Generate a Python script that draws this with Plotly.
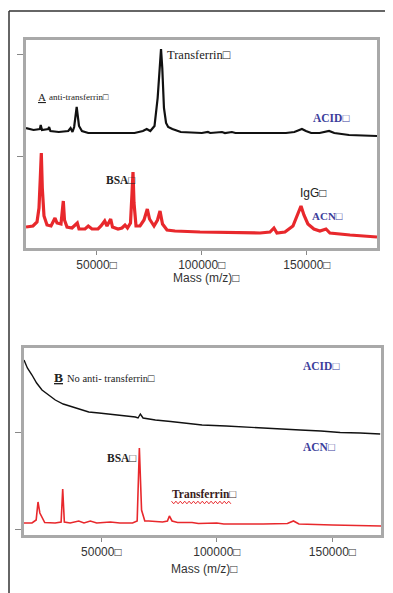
import plotly.graph_objects as go

# ---------------- DATA ----------------
# Panel A (with anti-transferrin): mass (m/z) and relative intensities (a.u.)
mass_acid_a = [16400, 20000, 23000, 23400, 24000, 27000, 27400, 28000, 32000, 36500,
               37600, 38500, 39300, 40500, 41600, 43000, 46000, 52000, 60000, 68000,
               72000, 73800, 75500, 77500, 79000, 80000, 80600, 81200, 82000, 83000,
               84000, 86000, 90000, 100000, 102900, 104000, 109600, 111000, 114300, 116000,
               130000, 140000, 144000, 146000, 147600, 149500, 152000, 156000, 160500, 163000,
               170000, 183300]
int_acid_a = [25, 23, 24, 28, 23, 24, 26, 22, 21, 22,
              25, 21, 26, 46, 27, 22, 20, 20, 20, 20,
              22, 24, 22, 27, 55, 90, 104, 85, 45, 30,
              26, 24, 21, 20, 21, 20, 21, 20, 21, 20,
              20, 20, 21, 23, 24, 22, 20, 20, 22, 20,
              18, 17]

mass_acn_a = [16400, 19730, 21630, 22580, 23200, 23680, 24150, 24960, 26390, 28290,
              29480, 30190, 31140, 33040, 34140, 34700, 35900, 38270, 40790, 41600,
              44450, 46020, 47780, 50640, 52060, 53820, 54910, 56670, 57530, 60150,
              62050, 63480, 64660, 66090, 66810, 67280, 67760, 68710, 70610, 72510,
              74080, 75130, 77270, 78930, 80120, 81310, 83450, 87250, 99140, 113400,
              127670, 132420, 134300, 135720, 139530, 143330, 145230, 147160, 148550, 150450,
              153300, 156160, 159050, 160900, 170460, 183300]
int_acn_a = [21, 22, 26, 40, 70, 95, 60, 32, 23, 22,
             27, 30, 25, 24, 47, 28, 21, 20, 25, 19,
             19, 22, 19, 19, 22, 27, 22, 29, 21, 19,
             20, 23, 20, 25, 55, 76, 45, 22, 22, 28,
             39, 29, 22, 28, 37, 24, 18, 17, 16, 15.5,
             15, 16, 20, 15, 16, 22, 32, 42, 33, 24,
             19, 17, 19, 15, 13, 11]

# Panel B (no anti-transferrin)
mass_acid_b = [16540, 18000, 20000, 22000, 24330, 27000, 30090, 33500, 37320, 41000,
               44550, 49000, 53200, 59000, 64720, 65890, 66880, 68050, 73380, 80000,
               93590, 104000, 114370, 125000, 136020, 145000, 153330, 162000, 170650]
int_acid_b = [80, 72, 65, 57, 50, 45, 40, 36, 33, 30,
              28, 27, 26, 24.5, 23, 22, 26, 22, 20, 18.5,
              15, 14, 12.5, 11.5, 10, 9, 7.5, 7, 6]

mass_acn_b = [16540, 20000, 21800, 22600, 23400, 24330, 25500, 30000, 32600, 33290,
              34000, 36500, 40220, 42500, 45240, 48000, 53900, 58000, 63500, 65500,
              66450, 67400, 68800, 70520, 76500, 78600, 79440, 80600, 83000, 89260,
              92000, 99950, 103000, 120000, 130500, 133120, 135500, 150000, 171000]
int_acn_b = [12, 12, 15, 33, 22, 18, 12.5, 12, 13, 46,
             13, 12, 14, 12, 14, 12, 13, 12, 12, 14,
             87, 25, 14, 14, 13, 14, 19, 14, 12.5, 12.5,
             11.5, 12, 11, 11, 11.5, 14, 11, 10, 9]

offset_acid_a = 95   # stacking offset of ACID trace (panel A)
offset_acid_b = 95   # stacking offset of ACID trace (panel B)

tickvals_x = [50000, 100000, 150000]
ticktext_x = ["50000□", "100000□", "150000□"]

# ---------------- LAYOUT HELPERS ----------------
# page body has an 8px margin; figure drawn in window coordinates
M = 8
W, H = 393 - M, 593 - M
def px(x):
    return (x - M) / W
def py(y):
    return 1 - (y - M) / H

RED = "#e8282c"
BLACK = "#111111"
BLUE = "#3b3d9b"
BOXC = "#a9a9a9"

fig = go.Figure()
fig.add_trace(go.Scatter(x=mass_acid_a, y=[v + offset_acid_a for v in int_acid_a],
                         mode="lines", line=dict(color=BLACK, width=2.2),
                         xaxis="x", yaxis="y", hoverinfo="skip"))
fig.add_trace(go.Scatter(x=mass_acn_a, y=int_acn_a, mode="lines",
                         line=dict(color=RED, width=3.2),
                         xaxis="x", yaxis="y", hoverinfo="skip"))
fig.add_trace(go.Scatter(x=mass_acid_b, y=[v + offset_acid_b for v in int_acid_b],
                         mode="lines", line=dict(color=BLACK, width=1.4),
                         xaxis="x2", yaxis="y2", hoverinfo="skip"))
fig.add_trace(go.Scatter(x=mass_acn_b, y=int_acn_b, mode="lines",
                         line=dict(color=RED, width=1.6),
                         xaxis="x2", yaxis="y2", hoverinfo="skip"))

tickfont = dict(family="Liberation Sans, Arial", size=12, color="#333333")
common_x = dict(showgrid=False, zeroline=False, showline=True, mirror=True,
                linecolor=BOXC, linewidth=2.5, ticks="outside", ticklen=4,
                tickcolor="#888888", tickwidth=1, tickvals=tickvals_x,
                ticktext=ticktext_x, tickfont=tickfont)
common_y = dict(showgrid=False, zeroline=False, showline=True, mirror=True,
                linecolor=BOXC, linewidth=2.5, ticks="outside", ticklen=6,
                tickcolor="#888888", tickwidth=1.2, showticklabels=False)

fig.update_layout(
    width=W, height=H, margin=dict(l=0, r=0, t=0, b=0),
    paper_bgcolor="white", plot_bgcolor="white", showlegend=False,
    xaxis=dict(common_x, domain=[px(26), px(377)], range=[16400, 183300], anchor="y"),
    yaxis=dict(common_y, domain=[py(248), py(40)], range=[0, 208], anchor="x",
               tickvals=[92, 194]),
    xaxis2=dict(common_x, domain=[px(24), px(381)], range=[16540, 171000], anchor="y2"),
    yaxis2=dict(common_y, domain=[py(535), py(348)], range=[0, 187], anchor="x2",
                tickvals=[6, 103]),
)

serif = "Liberation Serif, Times New Roman, serif"
sans = "Liberation Sans, Arial, sans-serif"
def ann(text, x, y, size, color="#222222", family=serif, xanchor="left"):
    fig.add_annotation(text=text, x=px(x), y=py(y), xref="paper", yref="paper",
                       xanchor=xanchor, yanchor="middle", showarrow=False,
                       font=dict(family=family, size=size, color=color))

# Panel A labels
ann("Transferrin□", 165, 55, 12.5)
ann("<u>A</u>", 36, 97, 11)
ann("anti-transferrin□", 47, 97, 9)
ann("<b>ACID□</b>", 311, 118, 11.5, BLUE)
ann("<b>BSA□</b>", 104, 180, 11.5)
ann("IgG□", 298, 193, 12, "#222222", sans)
ann("<b>ACN□</b>", 310, 216, 11, BLUE)
ann("Mass (m/z)□", 207, 278, 12, "#333333", sans, "center")

# Panel B labels
ann("<b><u>B</u></b>", 52, 377, 13.5)
ann("No anti- transferrin□", 65, 378, 10.5)
ann("<b>ACID□</b>", 301, 366, 11.5, BLUE)
ann("<b>ACN□</b>", 301, 447, 11.5, BLUE)
ann("<b>BSA□</b>", 105, 458, 11.5)
ann("<b>Transferrin□</b>", 170, 494, 11.5, "#3a1c1c")
ann("Mass (m/z)□", 205, 569, 12, "#333333", sans, "center")

# red squiggle under "Transferrin" (panel B)
pts = []
xs = 171.5
i = 0
while xs <= 232:
    yy = 502.5 + (1.3 if i % 2 else -1.3)
    pts.append(("M" if i == 0 else "L") + f"{px(xs):.5f},{py(yy):.5f}")
    xs += 2.2
    i += 1
fig.add_shape(type="path", path=" ".join(pts), xref="paper", yref="paper",
              line=dict(color=RED, width=1))

# outer frame (top and left lines)
fig.add_shape(type="line", x0=px(9), x1=1.0, y0=py(11), y1=py(11),
              xref="paper", yref="paper", line=dict(color="#333333", width=1.5))
fig.add_shape(type="line", x0=px(9), x1=px(9), y0=py(11), y1=0,
              xref="paper", yref="paper", line=dict(color="#333333", width=1.5))

fig.write_html("out.html")
